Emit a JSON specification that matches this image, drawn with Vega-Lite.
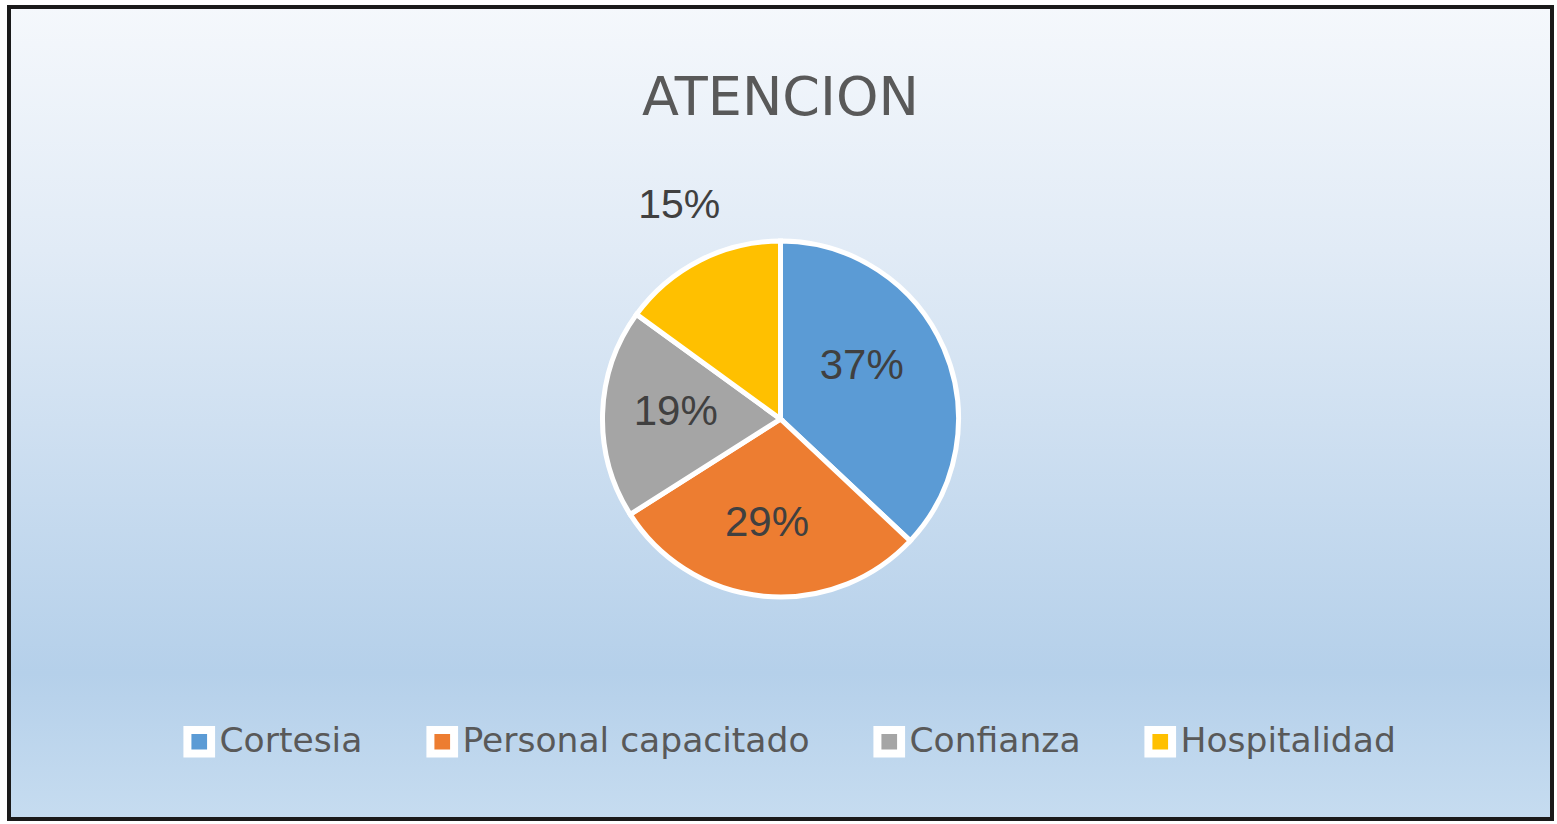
{
  "$schema": "https://vega.github.io/schema/vega-lite/v6.json",
  "width": 1557,
  "height": 824,
  "autosize": {"type": "fit", "contains": "padding"},
  "padding": {"left": 7, "top": 5, "right": 3, "bottom": 3},
  "background": "white",
  "config": {"view": {"stroke": null}},
  "title": {
    "text": "ATENCION",
    "font": "DejaVu Sans",
    "fontSize": 54,
    "fontWeight": "normal",
    "color": "#595959",
    "anchor": "middle",
    "baseline": "alphabetic",
    "offset": -164
  },
  "datasets": {
    "fondo": [{"k": 1}],
    "atencion": [
      {"categoria": "Cortesia", "porcentaje": 0.37, "orden": 1},
      {"categoria": "Personal capacitado", "porcentaje": 0.29, "orden": 2},
      {"categoria": "Confianza", "porcentaje": 0.19, "orden": 3},
      {"categoria": "Hospitalidad", "porcentaje": 0.15, "orden": 4}
    ]
  },
  "layer": [
    {
      "data": {"name": "fondo"},
      "mark": {
        "type": "rect",
        "stroke": "#1a1a1a",
        "strokeWidth": 4,
        "fill": {
          "gradient": "linear",
          "x1": 0, "y1": 0, "x2": 0, "y2": 1,
          "stops": [
            {"offset": 0, "color": "#f5f8fc"},
            {"offset": 0.3, "color": "#e1ebf6"},
            {"offset": 0.82, "color": "#b5d0ea"},
            {"offset": 1, "color": "#c6dcf0"}
          ]
        }
      },
      "encoding": {}
    },
    {
      "data": {"name": "atencion"},
      "mark": {"type": "arc", "outerRadius": 178, "stroke": "white", "strokeWidth": 5, "yOffset": 6},
      "encoding": {
        "theta": {"field": "porcentaje", "type": "quantitative", "stack": true},
        "order": {"field": "orden", "type": "quantitative"},
        "color": {
          "field": "categoria",
          "type": "nominal",
          "sort": null,
          "scale": {
            "domain": ["Cortesia", "Personal capacitado", "Confianza", "Hospitalidad"],
            "range": ["#5b9bd5", "#ed7d31", "#a5a5a5", "#ffc000"]
          },
          "legend": {
            "orient": "none",
            "legendX": 173,
            "legendY": 717,
            "direction": "horizontal",
            "columns": 4,
            "title": null,
            "padding": 0,
            "symbolType": "square",
            "symbolSize": 560,
            "symbolStrokeColor": "white",
            "symbolStrokeWidth": 8,
            "symbolOpacity": 1,
            "labelFont": "DejaVu Sans",
            "labelFontSize": 34.5,
            "labelColor": "#595959",
            "labelOffset": 3,
            "labelLimit": 600,
            "columnPadding": 51
          }
        }
      }
    },
    {
      "data": {"name": "atencion"},
      "mark": {"type": "text", "radius": 97, "thetaOffset": -0.17, "yOffset": 6, "font": "Liberation Sans", "fontSize": 42, "color": "#404040", "align": "center", "baseline": "middle"},
      "encoding": {
        "theta": {"field": "porcentaje", "type": "quantitative", "stack": true},
        "order": {"field": "orden", "type": "quantitative"},
        "text": {"field": "porcentaje", "type": "quantitative", "format": ".0%", "condition": {"test": "datum.categoria !== 'Cortesia'", "value": ""}}
      }
    },
    {
      "data": {"name": "atencion"},
      "mark": {"type": "text", "radius": 105, "thetaOffset": 0.035, "yOffset": 6, "font": "Liberation Sans", "fontSize": 42, "color": "#404040", "align": "center", "baseline": "middle"},
      "encoding": {
        "theta": {"field": "porcentaje", "type": "quantitative", "stack": true},
        "order": {"field": "orden", "type": "quantitative"},
        "text": {"field": "porcentaje", "type": "quantitative", "format": ".0%", "condition": {"test": "datum.categoria === 'Cortesia' || datum.categoria === 'Hospitalidad'", "value": ""}}
      }
    },
    {
      "data": {"name": "atencion"},
      "mark": {"type": "text", "radius": 236, "thetaOffset": 0.028, "yOffset": 6, "font": "Liberation Sans", "fontSize": 41, "color": "#404040", "align": "center", "baseline": "middle"},
      "encoding": {
        "theta": {"field": "porcentaje", "type": "quantitative", "stack": true},
        "order": {"field": "orden", "type": "quantitative"},
        "text": {"field": "porcentaje", "type": "quantitative", "format": ".0%", "condition": {"test": "datum.categoria !== 'Hospitalidad'", "value": ""}}
      }
    }
  ]
}
